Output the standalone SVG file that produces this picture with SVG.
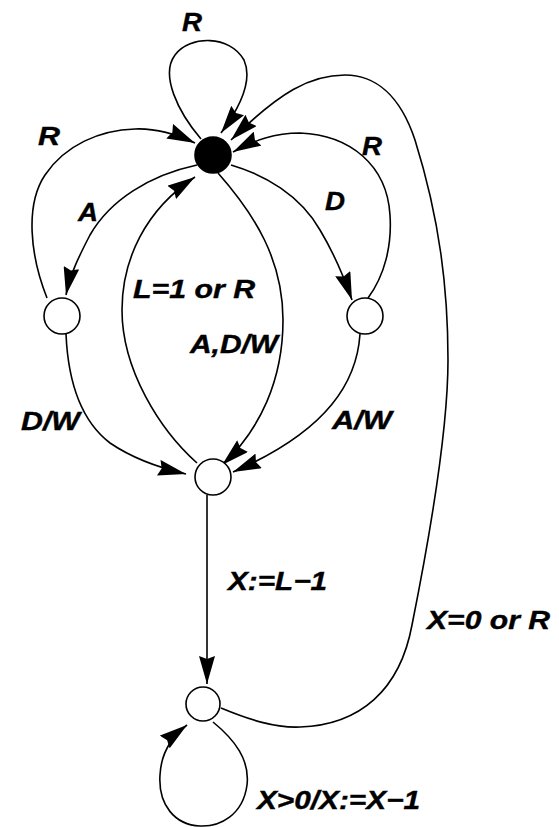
<svg xmlns="http://www.w3.org/2000/svg" width="559" height="827" viewBox="0 0 559 827">
<style>
.edge{fill:none;stroke:#000;stroke-width:1.6;marker-end:url(#arr)}
.state{fill:#fff;stroke:#000;stroke-width:1.6}
.init{fill:#000;stroke:#000;stroke-width:1.6}
.lbl{font-family:"Liberation Sans",Arial,sans-serif;font-weight:bold;font-style:italic;font-size:26px;fill:#000;stroke:#000;stroke-width:0.4}
</style>
<defs>
<marker id="arr" viewBox="0 0 28 16" refX="28" refY="8" markerWidth="28" markerHeight="16" markerUnits="userSpaceOnUse" orient="auto">
<path d="M0,0 L28,8 L0,16 L3,8 z" fill="#000"/>
</marker>
</defs>
<rect width="559" height="827" fill="#fff"/>
<g id="connectors">
<path class="edge" d="M201,139 C178,112 160,75 175,55 C190,35 230,35 244,60 C252,78 244,102 221,133"/>
<path class="edge" d="M47,298 C30,255 25,205 45,175 C65,145 100,130 135,129 C160,128 180,136 195,143"/>
<path class="edge" d="M197,165 C150,175 110,200 90,235 C78,258 70,275 66,295"/>
<path class="edge" d="M197,463 C160,430 122,370 122,310 C122,260 145,210 195,177"/>
<path class="edge" d="M218,173 C255,215 283,260 283,320 C283,380 260,430 222,465"/>
<path class="edge" d="M231,165 C265,175 300,195 320,230 C335,255 345,280 352,300"/>
<path class="edge" d="M368,298 C385,275 392,245 390,215 C387,165 350,135 300,133 C275,133 255,140 233,152"/>
<path class="edge" d="M66,334 C68,380 80,420 110,443 C135,460 160,468 186,474"/>
<path class="edge" d="M360,334 C357,380 330,430 233,472"/>
<path class="edge" d="M207,495 L207,684"/>
<path class="edge" d="M221,708 C250,720 275,728 300,727 C360,725 400,690 412,625 C425,560 448,440 448,360 C448,290 440,220 415,140 C400,95 375,75 345,75 C310,75 280,92 231,140"/>
<path class="edge" d="M213,722 C235,740 250,760 247,785 C243,815 220,827 200,826 C175,825 158,805 160,775 C161,755 170,738 187,725"/>
</g>
<g id="s0"><circle class="init" cx="213" cy="155" r="18"/></g>
<g id="s1"><circle class="state" cx="62" cy="316" r="18"/></g>
<g id="s2"><circle class="state" cx="365" cy="316" r="18"/></g>
<g id="s3"><circle class="state" cx="213" cy="477" r="18"/></g>
<g id="s4"><circle class="state" cx="203" cy="704" r="17"/></g>
<g id="labels">
<text class="lbl" x="182" y="31" textLength="20" lengthAdjust="spacingAndGlyphs">R</text>
<text class="lbl" x="38" y="145" textLength="22" lengthAdjust="spacingAndGlyphs">R</text>
<text class="lbl" x="78" y="221" textLength="20" lengthAdjust="spacingAndGlyphs">A</text>
<text class="lbl" x="133" y="298" textLength="122" lengthAdjust="spacingAndGlyphs">L=1 or R</text>
<text class="lbl" x="190" y="353" textLength="88" lengthAdjust="spacingAndGlyphs">A,D/W</text>
<text class="lbl" x="21" y="430" textLength="59" lengthAdjust="spacingAndGlyphs">D/W</text>
<text class="lbl" x="325" y="210" textLength="20" lengthAdjust="spacingAndGlyphs">D</text>
<text class="lbl" x="362" y="155" textLength="20" lengthAdjust="spacingAndGlyphs">R</text>
<text class="lbl" x="332" y="429" textLength="60" lengthAdjust="spacingAndGlyphs">A/W</text>
<text class="lbl" x="228" y="590" textLength="99" lengthAdjust="spacingAndGlyphs">X:=L−1</text>
<text class="lbl" x="427" y="629" textLength="123" lengthAdjust="spacingAndGlyphs">X=0 or R</text>
<text class="lbl" x="257" y="809" textLength="163" lengthAdjust="spacingAndGlyphs">X&gt;0/X:=X−1</text>
</g>
</svg>
